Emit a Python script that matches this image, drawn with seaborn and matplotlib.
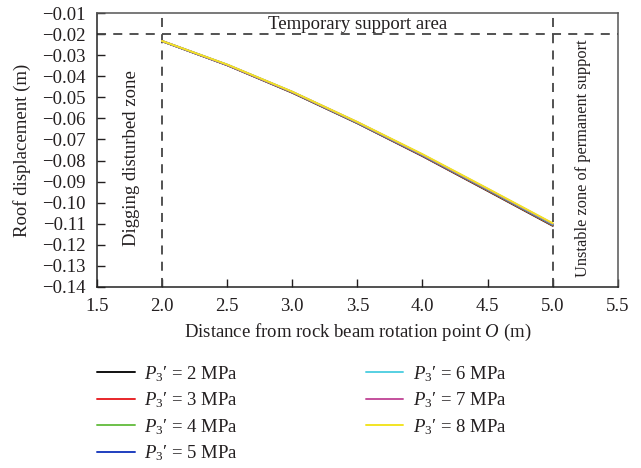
import matplotlib
matplotlib.use("Agg")
import matplotlib.pyplot as plt
import seaborn as sns
import pandas as pd

# Distance from rock beam rotation point O (m)
distance = [2.0, 2.5, 3.0, 3.5, 4.0, 4.5, 5.0]

# Roof displacement (m) for each support pressure P3'
pressures = [2, 3, 4, 5, 6, 7, 8]
disp_2 = [-0.0233, -0.0347, -0.0478, -0.0623, -0.0779, -0.0944, -0.1110]
disp_3 = [-0.0233, -0.0347, -0.0477, -0.0622, -0.0778, -0.0942, -0.1108]
disp_4 = [-0.0233, -0.0346, -0.0476, -0.0621, -0.0776, -0.0940, -0.1106]
disp_5 = [-0.0233, -0.0346, -0.0475, -0.0620, -0.0775, -0.0938, -0.1104]
disp_6 = [-0.0232, -0.0345, -0.0474, -0.0619, -0.0773, -0.0936, -0.1102]
disp_7 = [-0.0232, -0.0345, -0.0474, -0.0618, -0.0772, -0.0935, -0.1100]
disp_8 = [-0.0232, -0.0344, -0.0473, -0.0617, -0.0770, -0.0933, -0.1098]
series = [disp_2, disp_3, disp_4, disp_5, disp_6, disp_7, disp_8]

colors = ["#111111", "#e8262a", "#6cc04a", "#1f3fbf", "#56d0e2", "#c4509c", "#f2e424"]

x_ticks = [1.5, 2.0, 2.5, 3.0, 3.5, 4.0, 4.5, 5.0, 5.5]
y_ticks = [-0.01, -0.02, -0.03, -0.04, -0.05, -0.06, -0.07,
           -0.08, -0.09, -0.10, -0.11, -0.12, -0.13, -0.14]

labels = ["$P_3$\u2032 = %d MPa" % p for p in pressures]
rows = []
for lab, ys in zip(labels, series):
    for xv, yv in zip(distance, ys):
        rows.append({"x": xv, "y": yv, "P": lab})
df = pd.DataFrame(rows)

sns.set_theme(style="ticks")
text_color = "#231f20"
plt.rcParams.update({
    "font.family": ["Liberation Serif", "DejaVu Serif"],
    "mathtext.fontset": "custom",
    "mathtext.rm": "Liberation Serif",
    "mathtext.it": "Liberation Serif:italic",
    "text.color": text_color,
    "axes.labelcolor": text_color,
    "xtick.color": text_color,
    "ytick.color": text_color,
})

fig = plt.figure(figsize=(6.41, 4.68), dpi=100)
ax = fig.add_axes([0.151, 0.387, 0.813, 0.585])

sns.lineplot(data=df, x="x", y="y", hue="P", palette=colors, hue_order=labels,
             linewidth=1.4, ax=ax, legend=True)
handles, hl = ax.get_legend_handles_labels()
ax.get_legend().remove()

dash_kw = dict(color="#444444", linewidth=1.3, linestyle=(0, (5, 4)), zorder=1)
ax.axhline(-0.02, **dash_kw)
ax.axvline(2.0, **dash_kw)
ax.axvline(5.0, **dash_kw)

fs = 13.5
ax.text(3.5, -0.0152, "Temporary support area", ha="center", va="center", fontsize=fs)
ax.text(1.77, -0.079, "Digging disturbed zone", rotation=90, ha="center", va="center", fontsize=fs)
ax.text(5.235, -0.079, "Unstable zone of permanent support", rotation=90,
        ha="center", va="center", fontsize=11.8)

ax.set_xlim(1.5, 5.5)
ax.set_ylim(-0.14, -0.01)
ax.set_xticks(x_ticks)
ax.set_xticklabels([f"{v:.1f}" for v in x_ticks])
ax.set_yticks(y_ticks)
ax.set_yticklabels([f"\u2212{abs(v):.2f}" for v in y_ticks])
ax.tick_params(axis="y", direction="in", length=6, width=1, labelsize=fs, pad=8,
               right=False)
ax.tick_params(axis="x", direction="in", length=6, width=1, labelsize=fs, pad=8,
               top=False)
for side in ["left", "bottom"]:
    ax.spines[side].set_color("#222222")
    ax.spines[side].set_linewidth(1.1)
for side in ["top", "right"]:
    ax.spines[side].set_color("#555555")
    ax.spines[side].set_linewidth(1.1)

ax.set_xlabel(r"Distance from rock beam rotation point $\it{O}$ (m)", fontsize=fs, labelpad=5)
ax.set_ylabel("Roof displacement (m)", fontsize=fs, labelpad=8)

fig.legend(handles, hl, loc="upper left", bbox_to_anchor=(0.152, 1 - 364 / 468), ncol=2,
           frameon=False, fontsize=fs, handlelength=2.0, handletextpad=0.5,
           columnspacing=6.8, labelspacing=0.36, borderpad=0, borderaxespad=0)

fig.savefig("out.png", dpi=100)
